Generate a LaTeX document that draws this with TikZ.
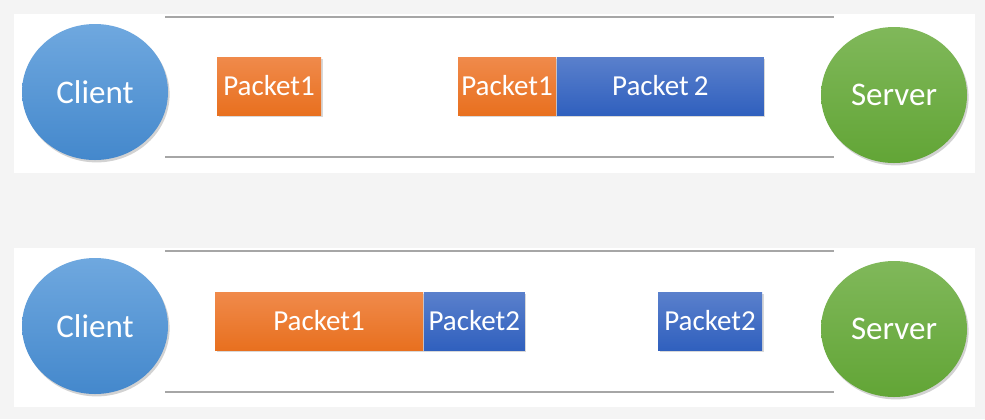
\documentclass[tikz,border=0pt]{standalone}
\usepackage{fontspec}
\setmainfont{Carlito}
\usetikzlibrary{positioning,shapes.geometric,shadows}
\definecolor{pagegray}{HTML}{F4F4F4}
\definecolor{wiregray}{HTML}{A6A6A6}
\definecolor{bluetop}{HTML}{6FA8DF}
\definecolor{bluebot}{HTML}{4488CC}
\definecolor{greentop}{HTML}{80B85A}
\definecolor{greenbot}{HTML}{62A536}
\definecolor{orangetop}{HTML}{F08A4B}
\definecolor{orangebot}{HTML}{E8701F}
\definecolor{navytop}{HTML}{5A80CC}
\definecolor{navybot}{HTML}{3060BE}
\tikzset{
    host/.style={ellipse, minimum width=73pt, minimum height=68pt, inner sep=0pt,
        text=white, font=\fontsize{16.5}{18}\selectfont,
        drop shadow={shadow xshift=0.8pt, shadow yshift=-1.2pt, opacity=0.35}},
    client/.style={host, top color=bluetop, bottom color=bluebot},
    server/.style={host, top color=greentop, bottom color=greenbot},
    packet/.style={rectangle, minimum height=29pt, inner sep=0pt,
        text=white, font=\fontsize{14.5}{16}\selectfont,
        drop shadow={shadow xshift=0.8pt, shadow yshift=-1.2pt, opacity=0.3}},
    pktone/.style={packet, top color=orangetop, bottom color=orangebot},
    pkttwo/.style={packet, top color=navytop, bottom color=navybot},
    wire/.style={draw=wiregray, line width=1pt}
}
\begin{document}
\begin{tikzpicture}[x=0.5pt, y=-0.5pt]
    \fill[pagegray] (0,0) rectangle (985,419);
    \useasboundingbox (0,0) rectangle (985,419);
    % Top panel
    \begin{scope}[shift={(0,0)}]
        \fill[white] (14,14) rectangle (975,173);
        \draw[wire] (165,17) -- (834,17);
        \draw[wire] (165,157) -- (834,157);
        \node[client] (clientA) at (95,92) {Client};
        \node[server] (serverA) at (894,95) {Server};
        \node[pktone, minimum width=52pt] (pktA) at (269,86) {Packet1};
        \node[pktone, minimum width=49pt] (pktB) at (507,86) {Packet1};
        \node[pkttwo, minimum width=103.5pt, right=0pt of pktB] (pktC) {Packet\,2};
    \end{scope}
    
    % Bottom panel
    \begin{scope}[shift={(0,234)}]
        \fill[white] (14,14) rectangle (975,173);
        \draw[wire] (165,17) -- (834,17);
        \draw[wire] (165,158) -- (834,158);
        \node[client] (clientB) at (95,92) {Client};
        \node[server] (serverB) at (894,95) {Server};
        \node[pktone, minimum width=104pt] (pktD) at (319,87) {Packet1};
        \node[pkttwo, minimum width=50.5pt, right=0pt of pktD] (pktE) {Packet2};
        \node[pkttwo, minimum width=52pt] (pktF) at (710,87) {Packet2};
    \end{scope}
\end{tikzpicture}
\end{document}
